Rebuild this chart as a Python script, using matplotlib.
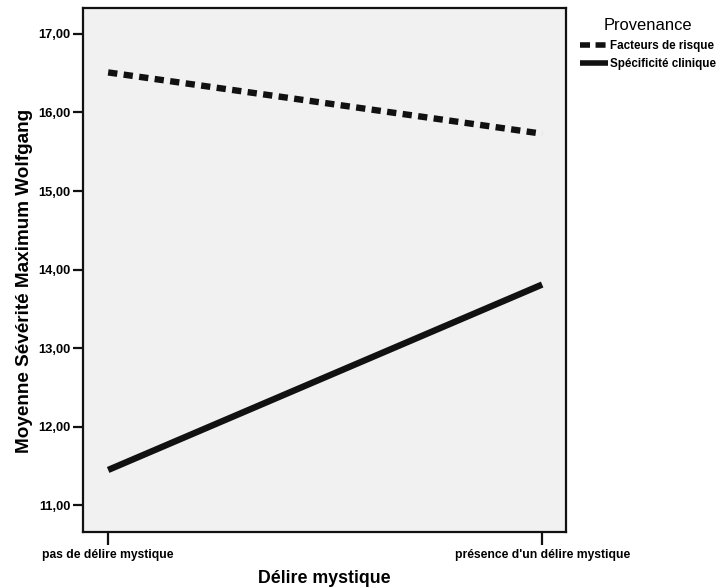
import matplotlib
matplotlib.use('Agg')
import matplotlib.pyplot as plt
from matplotlib.lines import Line2D

plt.rcParams['font.family'] = ['Liberation Sans', 'DejaVu Sans']

# data
categories = ["pas de délire mystique", "présence d'un délire mystique"]
facteurs_risque = [16.51, 15.73]
specificite_clinique = [11.45, 13.81]
yticks = [11, 12, 13, 14, 15, 16, 17]

fig = plt.figure(figsize=(7.24, 5.88), dpi=100)
ax = fig.add_axes([0.1146, 0.0952, 0.6672, 0.8912])
ax.set_facecolor('#f1f1f1')

x = list(range(len(categories)))
ax.plot(x, facteurs_risque, color='#111111', lw=4.6, linestyle=(0, (1.45, 1.0)),
        solid_capstyle='butt', dash_capstyle='butt')
ax.plot(x, specificite_clinique, color='#111111', lw=4.6, solid_capstyle='butt')

ax.set_xlim(-0.058, 1.055)
ax.set_ylim(10.66, 17.33)
ax.set_xticks(x)
ax.set_xticklabels(categories, fontsize=8.7, fontweight='bold')
ax.set_yticks(yticks)
ax.set_yticklabels([("%.2f" % v).replace('.', ',') for v in yticks],
                   fontsize=9.3, fontweight='bold')
ax.tick_params(axis='y', direction='out', length=7, width=1.6, color='#111111', pad=2)
ax.tick_params(axis='x', direction='out', length=9, width=1.6, color='#111111', pad=3)
for s in ax.spines.values():
    s.set_linewidth(1.6)
    s.set_color('#111111')

ax.set_xlabel("Délire mystique", fontsize=12.8, fontweight='bold')
ax.xaxis.set_label_coords(0.5, -0.072)
ax.set_ylabel("Moyenne Sévérité Maximum Wolfgang", fontsize=13.6,
              fontweight='bold')
ax.yaxis.set_label_coords(-0.104, 0.479)

handles = [
    Line2D([], [], color='#111111', lw=4, linestyle=(0, (1.8, 1.0)),
           dash_capstyle='butt'),
    Line2D([], [], color='#111111', lw=4, solid_capstyle='butt'),
]
leg = fig.legend(handles, ["Facteurs de risque", "Spécificité clinique"],
                 title="Provenance", loc='upper left',
                 bbox_to_anchor=(0.7985, 0.973), frameon=False,
                 prop={'size': 8.4, 'weight': 'bold'},
                 title_fontsize=11.9, handlelength=2.4, handletextpad=0.15,
                 labelspacing=0.55, borderaxespad=0, borderpad=0.2)

fig.savefig('out.png', dpi=100)
